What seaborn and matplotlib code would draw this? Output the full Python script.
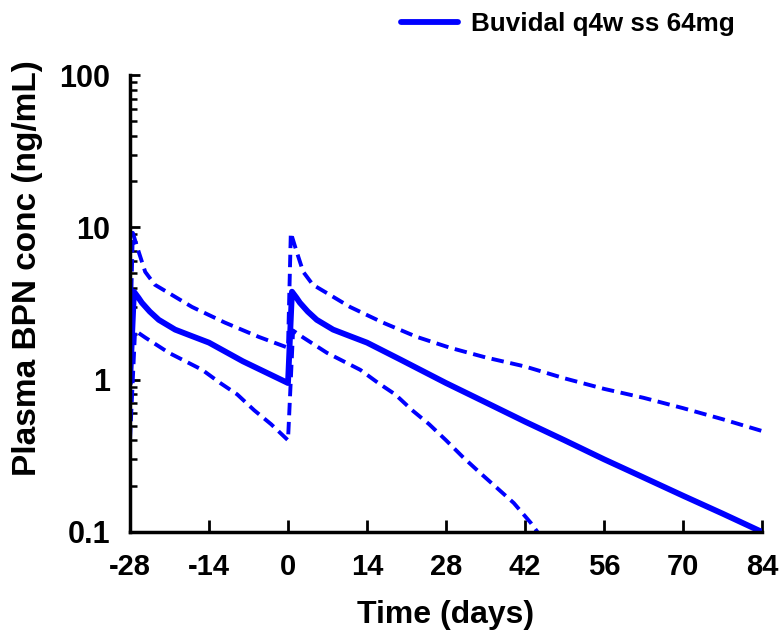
import pandas as pd
import seaborn as sns
import matplotlib.pyplot as plt
from matplotlib.ticker import LogLocator, FixedLocator, NullFormatter

# DATA
median_time = [-28, -27.3, -26.5, -25.9, -24.5, -22.9, -20, -17, -14, -8, 0,
               0.7, 1.5, 2.1, 3.5, 5.1, 8, 11, 14, 20, 28, 35, 42, 49, 56, 63, 70, 77, 84]
median_conc = [0.95, 3.78, 3.45, 3.2, 2.8, 2.47, 2.13, 1.93, 1.75, 1.32, 0.95,
               3.78, 3.45, 3.2, 2.8, 2.47, 2.13, 1.93, 1.75, 1.35, 0.95, 0.71, 0.53, 0.4, 0.3, 0.228, 0.173, 0.132, 0.1]

upper_time = [-28, -27.5, -26.4, -25.3, -23.6, -21.1, -17, -11.2, -5.2, 0,
              0.5, 1.6, 2.7, 4.4, 6.9, 11, 16.8, 22.8, 28.7, 35, 42, 49, 56, 63, 70, 77, 84]
upper_conc = [1.62, 9.2, 6.8, 5.1, 4.2, 3.7, 3.0, 2.37, 1.91, 1.62,
              9.2, 6.8, 5.1, 4.2, 3.7, 3.0, 2.37, 1.91, 1.62, 1.4, 1.22, 1.02, 0.87, 0.76, 0.65, 0.55, 0.46]

lower_time = [-28, -27.1, -25.3, -21.1, -15.2, -12, -9, -6, -3, 0,
              0.9, 2.7, 6.9, 12.8, 16, 19, 22, 25, 28, 31, 34, 37, 40, 43, 44.2]
lower_conc = [0.40, 2.1, 1.89, 1.5, 1.16, 0.95, 0.8, 0.63, 0.51, 0.40,
              2.1, 1.89, 1.5, 1.16, 0.95, 0.8, 0.63, 0.51, 0.40, 0.31, 0.245, 0.195, 0.155, 0.115, 0.1]

x_ticks = [-28, -14, 0, 14, 28, 42, 56, 70, 84]
y_ticks = [0.1, 1, 10, 100]
y_tick_labels = ["0.1", "1", "10", "100"]

median_df = pd.DataFrame({"time": median_time, "conc": median_conc})
upper_df = pd.DataFrame({"time": upper_time, "conc": upper_conc})
lower_df = pd.DataFrame({"time": lower_time, "conc": lower_conc})

sns.set_style("ticks")
plt.rcParams['font.family'] = ['Liberation Sans', 'DejaVu Sans']
plt.rcParams['font.weight'] = 'bold'
plt.rcParams['text.color'] = 'black'
plt.rcParams['axes.labelcolor'] = 'black'
plt.rcParams['xtick.color'] = 'black'
plt.rcParams['ytick.color'] = 'black'

fig = plt.figure(figsize=(7.84, 6.39), dpi=100)
ax = fig.add_axes([0.1658, 0.1675, 0.972 - 0.1658, 0.8826 - 0.1675])

blue = '#0000ff'
dash = (0, (3.2, 1.7))
sns.lineplot(data=upper_df, x="time", y="conc", ax=ax, estimator=None, sort=False,
             color=blue, linewidth=2.8, linestyle=dash)
sns.lineplot(data=lower_df, x="time", y="conc", ax=ax, estimator=None, sort=False,
             color=blue, linewidth=2.8, linestyle=dash)
sns.lineplot(data=median_df, x="time", y="conc", ax=ax, estimator=None, sort=False,
             color=blue, linewidth=4.2, label="Buvidal q4w ss 64mg")

ax.set_yscale("log")
ax.set_xlim(-28, 84)
ax.set_ylim(0.1, 100)
ax.set_xticks(x_ticks)
ax.set_xticklabels([str(t) for t in x_ticks])
ax.yaxis.set_major_locator(FixedLocator(y_ticks))
ax.set_yticklabels(y_tick_labels)
ax.yaxis.set_minor_locator(LogLocator(base=10, subs=range(2, 10)))
ax.yaxis.set_minor_formatter(NullFormatter())

ax.tick_params(axis='x', which='major', direction='in', length=9, width=2, pad=15, labelsize=21)
ax.tick_params(axis='y', which='major', direction='in', length=7.5, width=2, pad=14, labelsize=22)
ax.tick_params(axis='y', which='minor', direction='in', length=5, width=1.8)
for lab in ax.get_xticklabels() + ax.get_yticklabels():
    lab.set_fontweight('bold')

sns.despine(ax=ax)
for s in ['left', 'bottom']:
    ax.spines[s].set_linewidth(2.5)
    ax.spines[s].set_color('black')

ax.set_xlabel("Time (days)", fontsize=23, fontweight='bold', labelpad=14)
ax.set_ylabel("Plasma BPN conc (ng/mL)", fontsize=24, fontweight='bold', labelpad=12, y=0.578)

leg = ax.legend(loc='center left', bbox_to_anchor=(0.5115, 0.9624), bbox_transform=fig.transFigure,
                frameon=False, borderpad=0, borderaxespad=0, handlelength=2.2, handletextpad=0.5,
                prop={'size': 18.7, 'weight': 'bold'})

plt.savefig("out.png", dpi=100)
plt.close()
